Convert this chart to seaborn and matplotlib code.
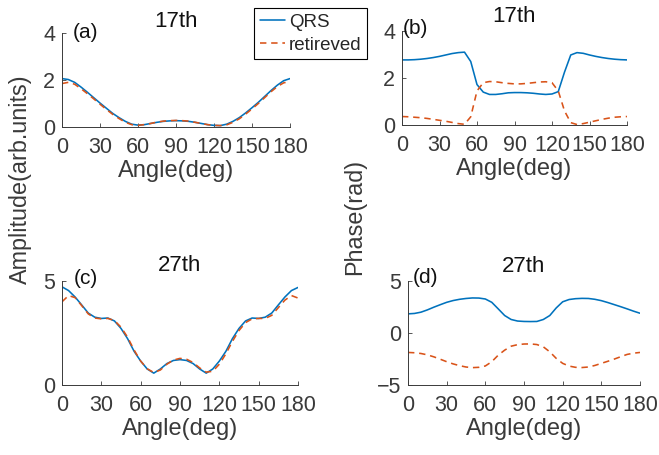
import numpy as np
import pandas as pd
import matplotlib
matplotlib.use('Agg')
import matplotlib.pyplot as plt
import seaborn as sns

# angle grid (deg)
angle = list(range(0, 181, 5))

# (a) amplitude, 17th harmonic
amp17_qrs = [2.06, 2.02, 1.90, 1.70, 1.48, 1.25, 1.02, 0.80, 0.58, 0.40, 0.24, 0.12, 0.08,
             0.10, 0.15, 0.20, 0.24, 0.26, 0.27, 0.26, 0.24, 0.20, 0.15, 0.10, 0.07, 0.06,
             0.12, 0.24, 0.40, 0.60, 0.82, 1.05, 1.30, 1.55, 1.78, 1.97, 2.06]
amp17_ret = [1.85, 1.90, 1.82, 1.63, 1.42, 1.20, 0.97, 0.75, 0.54, 0.36, 0.20, 0.10, 0.07,
             0.10, 0.15, 0.21, 0.25, 0.27, 0.28, 0.27, 0.25, 0.20, 0.15, 0.10, 0.07, 0.06,
             0.09, 0.20, 0.35, 0.55, 0.77, 1.00, 1.25, 1.50, 1.72, 1.88, 1.93]

# (b) phase, 17th harmonic
ph17_qrs = [2.77, 2.77, 2.78, 2.80, 2.83, 2.87, 2.92, 2.98, 3.04, 3.08, 3.10, 2.70, 1.72,
            1.40, 1.30, 1.30, 1.33, 1.37, 1.38, 1.38, 1.37, 1.35, 1.32, 1.30, 1.32, 1.42,
            2.25, 2.98, 3.08, 3.05, 2.98, 2.92, 2.87, 2.83, 2.80, 2.78, 2.77]
ph17_ret = [0.36, 0.35, 0.33, 0.31, 0.28, 0.24, 0.20, 0.16, 0.11, 0.06, 0.03, 0.35, 1.45,
            1.80, 1.85, 1.84, 1.80, 1.77, 1.75, 1.75, 1.77, 1.80, 1.83, 1.84, 1.80, 1.45,
            0.60, 0.10, 0.02, 0.06, 0.12, 0.18, 0.24, 0.29, 0.33, 0.35, 0.36]

# (c) amplitude, 27th harmonic
amp27_qrs = [4.72, 4.54, 4.23, 3.85, 3.46, 3.26, 3.20, 3.22, 3.08, 2.72, 2.23, 1.62, 1.15,
             0.77, 0.57, 0.77, 1.03, 1.18, 1.22, 1.18, 1.03, 0.77, 0.57, 0.77, 1.15, 1.62,
             2.23, 2.72, 3.08, 3.22, 3.20, 3.26, 3.46, 3.85, 4.23, 4.54, 4.69]
amp27_ret = [4.00, 4.30, 4.20, 3.82, 3.42, 3.22, 3.18, 3.20, 3.10, 2.78, 2.30, 1.68, 1.15,
             0.78, 0.60, 0.72, 1.00, 1.20, 1.28, 1.24, 1.08, 0.82, 0.62, 0.66, 1.00, 1.50,
             2.10, 2.62, 3.00, 3.18, 3.20, 3.20, 3.35, 3.72, 4.08, 4.30, 4.18]

# (d) phase, 27th harmonic
ph27_qrs = [1.84, 1.88, 2.00, 2.22, 2.48, 2.72, 2.95, 3.12, 3.24, 3.32, 3.37, 3.36, 3.27,
            2.95, 2.32, 1.68, 1.30, 1.15, 1.11, 1.10, 1.11, 1.30, 1.68, 2.41, 3.00, 3.22,
            3.30, 3.33, 3.32, 3.24, 3.11, 2.93, 2.73, 2.53, 2.32, 2.10, 1.90]
ph27_ret = [-1.87, -1.90, -1.97, -2.10, -2.29, -2.52, -2.76, -2.97, -3.14, -3.27, -3.33,
            -3.30, -3.17, -2.76, -2.13, -1.65, -1.27, -1.12, -1.06, -1.05, -1.11, -1.33,
            -1.81, -2.44, -2.92, -3.18, -3.30, -3.32, -3.27, -3.12, -2.92, -2.72, -2.51,
            -2.28, -2.06, -1.94, -1.87]

xticks = [0, 30, 60, 90, 120, 150, 180]

sns.set_style('ticks')
plt.rcParams['font.family'] = ['Liberation Sans', 'DejaVu Sans']

blue = '#0072BD'
orange = '#D95319'
grey = '#3a3a3a'

fig = plt.figure(figsize=(6.59, 4.55), dpi=100)

# axes boxes in pixels: left, top, right, bottom
boxes = {
    'a': (62, 33, 290, 127),
    'b': (402, 31, 627, 125),
    'c': (62, 281, 298, 385),
    'd': (408, 281, 640, 385),
}

# key, title, qrs, retrieved, ylim, yticks, label x, label y, title pad
panels = [
    ('a', '17th', amp17_qrs, amp17_ret, (0, 4), [0, 2, 4], 0.045, 1.0, 4.5),
    ('b', '17th', ph17_qrs, ph17_ret, (0, 4), [0, 2, 4], 0.005, 1.03, 6.5),
    ('c', '27th', amp27_qrs, amp27_ret, (0, 5), [0, 5], 0.05, 1.02, 7.5),
    ('d', '27th', ph27_qrs, ph27_ret, (-5, 5), [-5, 0, 5], 0.02, 1.03, 6.5),
]

axes = {}
for key, title, qrs, ret, ylim, yticks, tx, ty, tpad in panels:
    l, t, r, b = boxes[key]
    ax = fig.add_axes([l / 659, 1 - b / 455, (r - l) / 659, (b - t) / 455])
    df = pd.DataFrame({'angle': angle + angle,
                       'value': qrs + ret,
                       'series': ['QRS'] * len(angle) + ['retireved'] * len(angle)})
    sns.lineplot(data=df[df.series == 'QRS'], x='angle', y='value', ax=ax,
                 color=blue, linewidth=1.15, label='QRS', legend=False)
    sns.lineplot(data=df[df.series == 'retireved'], x='angle', y='value', ax=ax,
                 color=orange, linewidth=1.15, linestyle=(0, (4, 3)),
                 label='retireved', legend=False)
    ax.set_xlim(0, 180)
    ax.set_ylim(*ylim)
    ax.set_xticks(xticks)
    ax.set_yticks(yticks)
    ax.set_xlabel('Angle(deg)', fontsize=17, color=grey, labelpad=2)
    ax.set_ylabel('')
    ax.set_title(title, fontsize=16, pad=tpad, color='#111111')
    ax.tick_params(direction='in', length=3, width=0.6, labelsize=15.5,
                   labelcolor=grey, color=grey)
    ax.tick_params(axis='x', pad=7)
    ax.tick_params(axis='y', pad=5)
    for side in ['top', 'right']:
        ax.spines[side].set_visible(False)
    for side in ['left', 'bottom']:
        ax.spines[side].set_color(grey)
        ax.spines[side].set_linewidth(0.7)
    ax.text(tx, ty, '(' + key + ')', transform=ax.transAxes, fontsize=15,
            va='center', ha='left', color='#111111')
    axes[key] = ax

handles, labels = axes['a'].get_legend_handles_labels()
leg = fig.legend(handles, labels, loc='upper left', bbox_to_anchor=(254 / 659, 1 - 8 / 455),
                 borderaxespad=0, fontsize=13.5, fancybox=False, framealpha=1,
                 edgecolor='black', handlelength=1.35, handletextpad=0.2,
                 borderpad=0.3, labelspacing=0.3)
leg.get_frame().set_linewidth(0.8)

fig.text(20 / 659, 1 - 179 / 455, 'Amplitude(arb.units)', rotation=90, fontsize=16.8,
         color=grey, ha='center', va='center')
fig.text(355 / 659, 1 - 217 / 455, 'Phase(rad)', rotation=90, fontsize=16.8,
         color=grey, ha='center', va='center')

fig.savefig('out.png', dpi=100)
